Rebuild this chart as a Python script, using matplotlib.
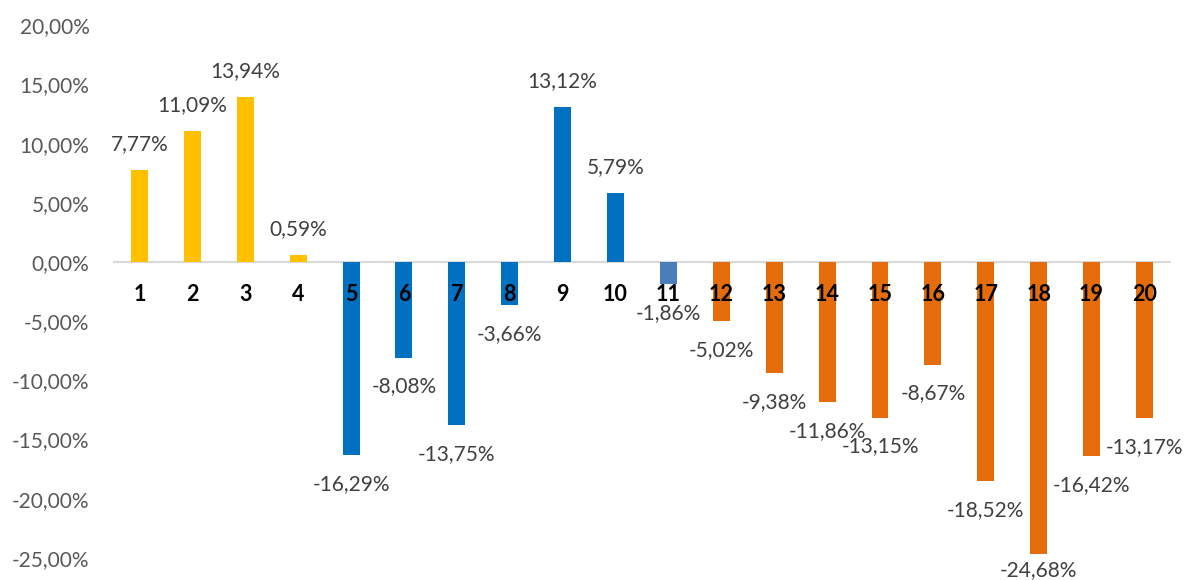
import matplotlib
matplotlib.use('Agg')
import matplotlib.pyplot as plt
from matplotlib.ticker import FuncFormatter, MultipleLocator

plt.rcParams['font.family'] = ['Lato', 'DejaVu Sans']

# data (percent)
categories = [str(i) for i in range(1, 21)]
values = [7.77, 11.09, 13.94, 0.59, -16.29, -8.08, -13.75, -3.66, 13.12, 5.79,
          -1.86, -5.02, -9.38, -11.86, -13.15, -8.67, -18.52, -24.68, -16.42, -13.17]
groups = ['a'] * 4 + ['b'] * 6 + ['c'] + ['d'] * 9

group_colors = {'a': '#FFC000', 'b': '#0070C0', 'c': '#4A7EBB', 'd': '#E46C0A'}

fig = plt.figure(figsize=(11.86, 5.8), dpi=100)
ax = fig.add_axes([0.0953, 0.0383, 0.892, 0.918])

x = list(range(1, len(values) + 1))
bars = ax.bar(x, values, width=0.32, color=[group_colors[g] for g in groups], zorder=2)

ax.set_xlim(0.5, 20.5)
ax.set_ylim(-25, 20)
ax.yaxis.set_major_locator(MultipleLocator(5))
ax.yaxis.set_major_formatter(FuncFormatter(lambda v, p: f'{v:.2f}%'.replace('.', ',')))
ax.tick_params(axis='y', length=0, labelsize=15, labelcolor='#595959', pad=17)
ax.set_xticks([])
for s in ax.spines.values():
    s.set_visible(False)
ax.axhline(0, color='#D9D9D9', lw=1.5, zorder=1)

# data labels
for xi, v in zip(x, values):
    off = 26 if v >= 0 else -29
    if v < -24:
        off = -16  # kept inside chart area
    ax.annotate(f'{v:.2f}%'.replace('.', ','), xy=(xi, v), xytext=(0, off),
                textcoords='offset pixels', ha='center', va='center',
                fontsize=15, color='#404040', annotation_clip=False)

# category labels along zero line
for xi, c in zip(x, categories):
    ax.annotate(c, xy=(xi, 0), xytext=(0, -33), textcoords='offset pixels',
                ha='center', va='center', fontsize=15.5, fontweight='bold',
                color='black', zorder=3)

fig.savefig('out.png', dpi=100)
